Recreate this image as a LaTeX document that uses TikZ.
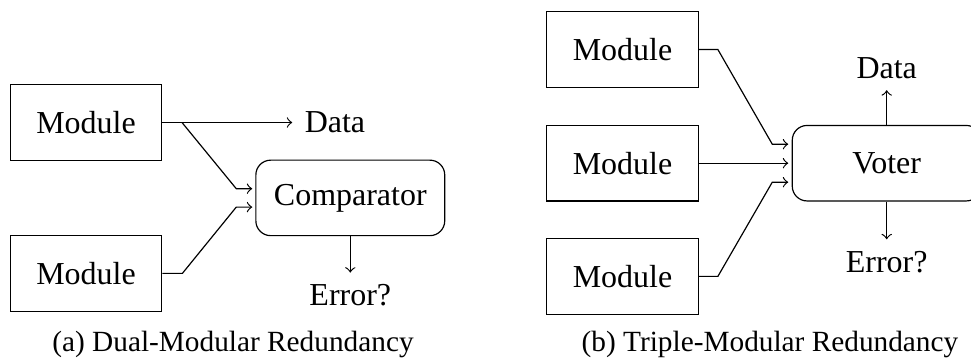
\documentclass[tikz,border=0pt]{standalone}
\usepackage{fontspec}
\setmainfont{Liberation Serif}
\usetikzlibrary{calc}

\tikzset{
  module/.style={draw, line width=0.4pt, minimum width=51.2pt, minimum height=25.5pt, inner sep=0pt},
  checker/.style={draw, line width=0.4pt, rounded corners=5pt, minimum width=63.8pt, minimum height=25.5pt, inner sep=0pt},
  label/.style={inner sep=0pt},
  caption/.style={inner sep=0pt, font=\fontsize{9.9pt}{12pt}\selectfont},
  wire/.style={line width=0.4pt},
  flow/.style={wire, ->},
}

\begin{document}
\begin{tikzpicture}[x=0.3378pt, y=-0.3378pt, font=\fontsize{10.8pt}{13pt}\selectfont]
  \useasboundingbox (0,0) rectangle (971,358);

  % ---- (a) dual-modular redundancy ----
  \node[module] (a1) at (86,122.5) {Module};
  \node[module] (a2) at (86,273.4) {Module};
  \node[checker] (cmp) at (350.3,197.9) {Comparator};
  \node[label] (adata) at (335,122.5) {Data};
  \node[label] (aerr) at (350.3,295) {Error?};
  \coordinate (abr) at (182,122.5);

  \draw[flow] (a1.east) -- ($(adata.west)+(-12,0)$);
  \draw[flow] (abr) -- ($(cmp.west)+(-19,-9.2)$) -- ($(cmp.west)+(-3,-9.2)$);
  \draw[flow] (a2.east) -- ++(20,0) -- ($(cmp.west)+(-19,9.2)$) -- ($(cmp.west)+(-3,9.2)$);
  \draw[flow] (cmp.south) -- ($(aerr.north)+(0,-11)$);

  \node[caption] (capa) at (233,344) {(a) Dual-Modular Redundancy};

  % ---- (b) triple-modular redundancy ----
  \node[module] (b1) at (622.5,49.5) {Module};
  \node[module] (b2) at (622.5,163.2) {Module};
  \node[module] (b3) at (622.5,276.4) {Module};
  \node[checker] (vot) at (886.7,163.2) {Voter};
  \node[label] (bdata) at (886.7,68) {Data};
  \node[label] (berr) at (886.7,261.7) {Error?};

  \draw[flow] (b1.east) -- ++(19,0) -- ($(vot.west)+(-19.4,-19)$) -- ($(vot.west)+(-3.4,-19)$);
  \draw[flow] (b2.east) -- ($(vot.west)+(-3.4,0)$);
  \draw[flow] (b3.east) -- ++(19,0) -- ($(vot.west)+(-19.4,19)$) -- ($(vot.west)+(-3.4,19)$);
  \draw[flow] (vot.north) -- ($(bdata.south)+(0,11)$);
  \draw[flow] (vot.south) -- ($(berr.north)+(0,-11)$);

  \node[caption] (capb) at (770,344) {(b) Triple-Modular Redundancy};
\end{tikzpicture}
\end{document}
